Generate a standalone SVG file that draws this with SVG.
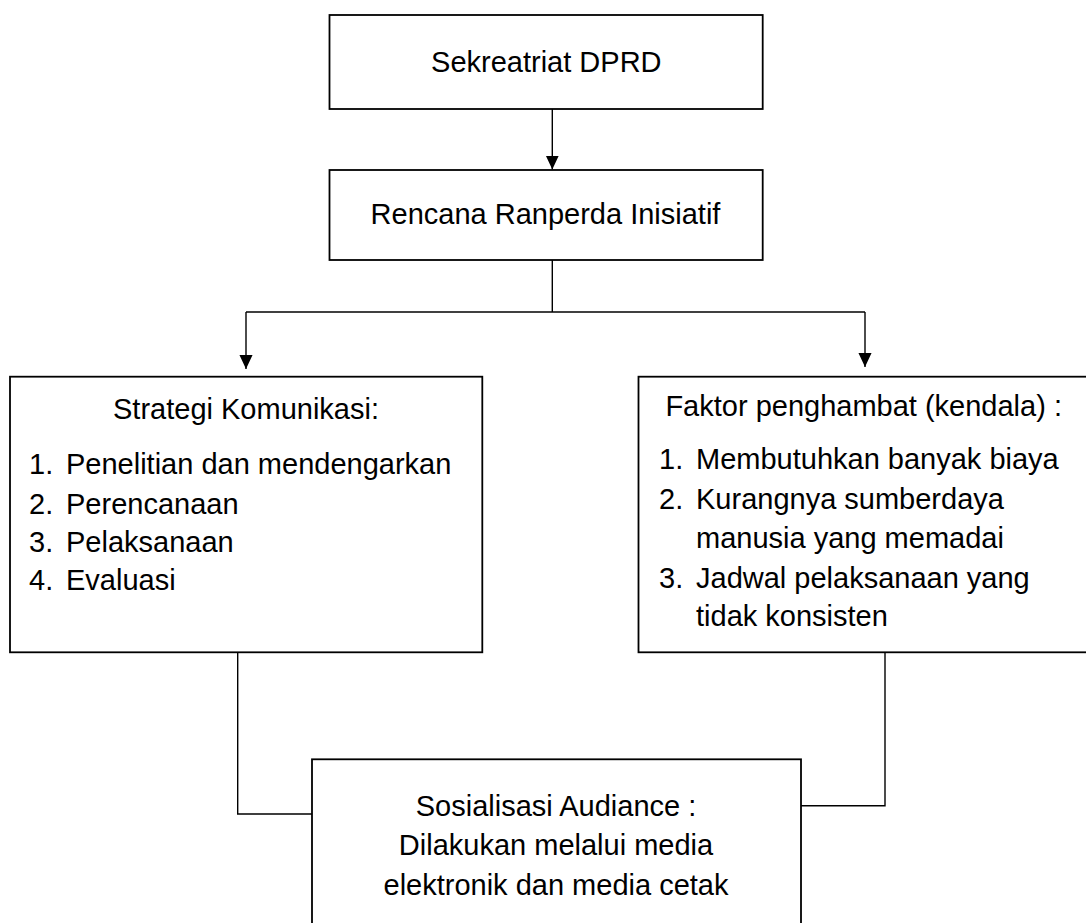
<svg xmlns="http://www.w3.org/2000/svg" width="1086" height="923" viewBox="0 0 1086 923">
<style>
.box{fill:#fff;stroke:#000;stroke-width:1.8}
.ln{fill:none;stroke:#000;stroke-width:1.4}
.t{font-family:"Liberation Sans",Arial,sans-serif;font-size:29px;fill:#000}
.m{text-anchor:middle}
</style>
<defs>
<marker id="arr" markerUnits="userSpaceOnUse" markerWidth="14" markerHeight="16" refX="15" refY="7" orient="auto" viewBox="0 0 15 14">
<path d="M0,0 L15,7 L0,14 z" fill="#000"/>
</marker>
</defs>
<rect width="1086" height="923" fill="#fff"/>
<g id="connectors">
<line class="ln" x1="552.3" y1="109" x2="552.3" y2="169.5" marker-end="url(#arr)"/>
<line class="ln" x1="552.3" y1="260" x2="552.3" y2="312"/>
<line class="ln" x1="246" y1="312" x2="865" y2="312"/>
<line class="ln" x1="246" y1="312" x2="246" y2="369" marker-end="url(#arr)"/>
<line class="ln" x1="865" y1="312" x2="865" y2="367" marker-end="url(#arr)"/>
<path class="ln" d="M237.7,652.3 V814 H312"/>
<path class="ln" d="M885,643 V805.7 H801"/>
</g>
<g id="sekretariat">
<rect class="box" x="329.5" y="15" width="433.2" height="94"/>
<text class="t m" x="546.3" y="71.5">Sekreatriat DPRD</text>
</g>
<g id="rencana">
<rect class="box" x="329.5" y="170" width="433.2" height="90"/>
<text class="t m" x="545.5" y="223.5">Rencana Ranperda Inisiatif</text>
</g>
<g id="strategi">
<rect class="box" x="10" y="376.7" width="472.3" height="275.6"/>
<text class="t m" x="246" y="418.5">Strategi Komunikasi:</text>
<text class="t" x="29" y="473.5">1.</text>
<text class="t" x="66" y="473.5">Penelitian dan mendengarkan</text>
<text class="t" x="29" y="514">2.</text>
<text class="t" x="66" y="514">Perencanaan</text>
<text class="t" x="29" y="552">3.</text>
<text class="t" x="66" y="552">Pelaksanaan</text>
<text class="t" x="29" y="589.5">4.</text>
<text class="t" x="66" y="589.5">Evaluasi</text>
</g>
<g id="faktor">
<rect class="box" x="638.5" y="376.7" width="450" height="275.6"/>
<text class="t" x="665.4" y="416">Faktor penghambat (kendala) :</text>
<text class="t" x="659" y="468.5">1.</text>
<text class="t" x="696" y="468.5">Membutuhkan banyak biaya</text>
<text class="t" x="659" y="509">2.</text>
<text class="t" x="696" y="509">Kurangnya sumberdaya</text>
<text class="t" x="696" y="547.5">manusia yang memadai</text>
<text class="t" x="659" y="588">3.</text>
<text class="t" x="696" y="588">Jadwal pelaksanaan yang</text>
<text class="t" x="696" y="626">tidak konsisten</text>
</g>
<g id="sosialisasi">
<rect class="box" x="312" y="759.3" width="489" height="170"/>
<text class="t m" x="556" y="815.7">Sosialisasi Audiance :</text>
<text class="t m" x="556" y="855">Dilakukan melalui media</text>
<text class="t m" x="556" y="895">elektronik dan media cetak</text>
</g>
</svg>
